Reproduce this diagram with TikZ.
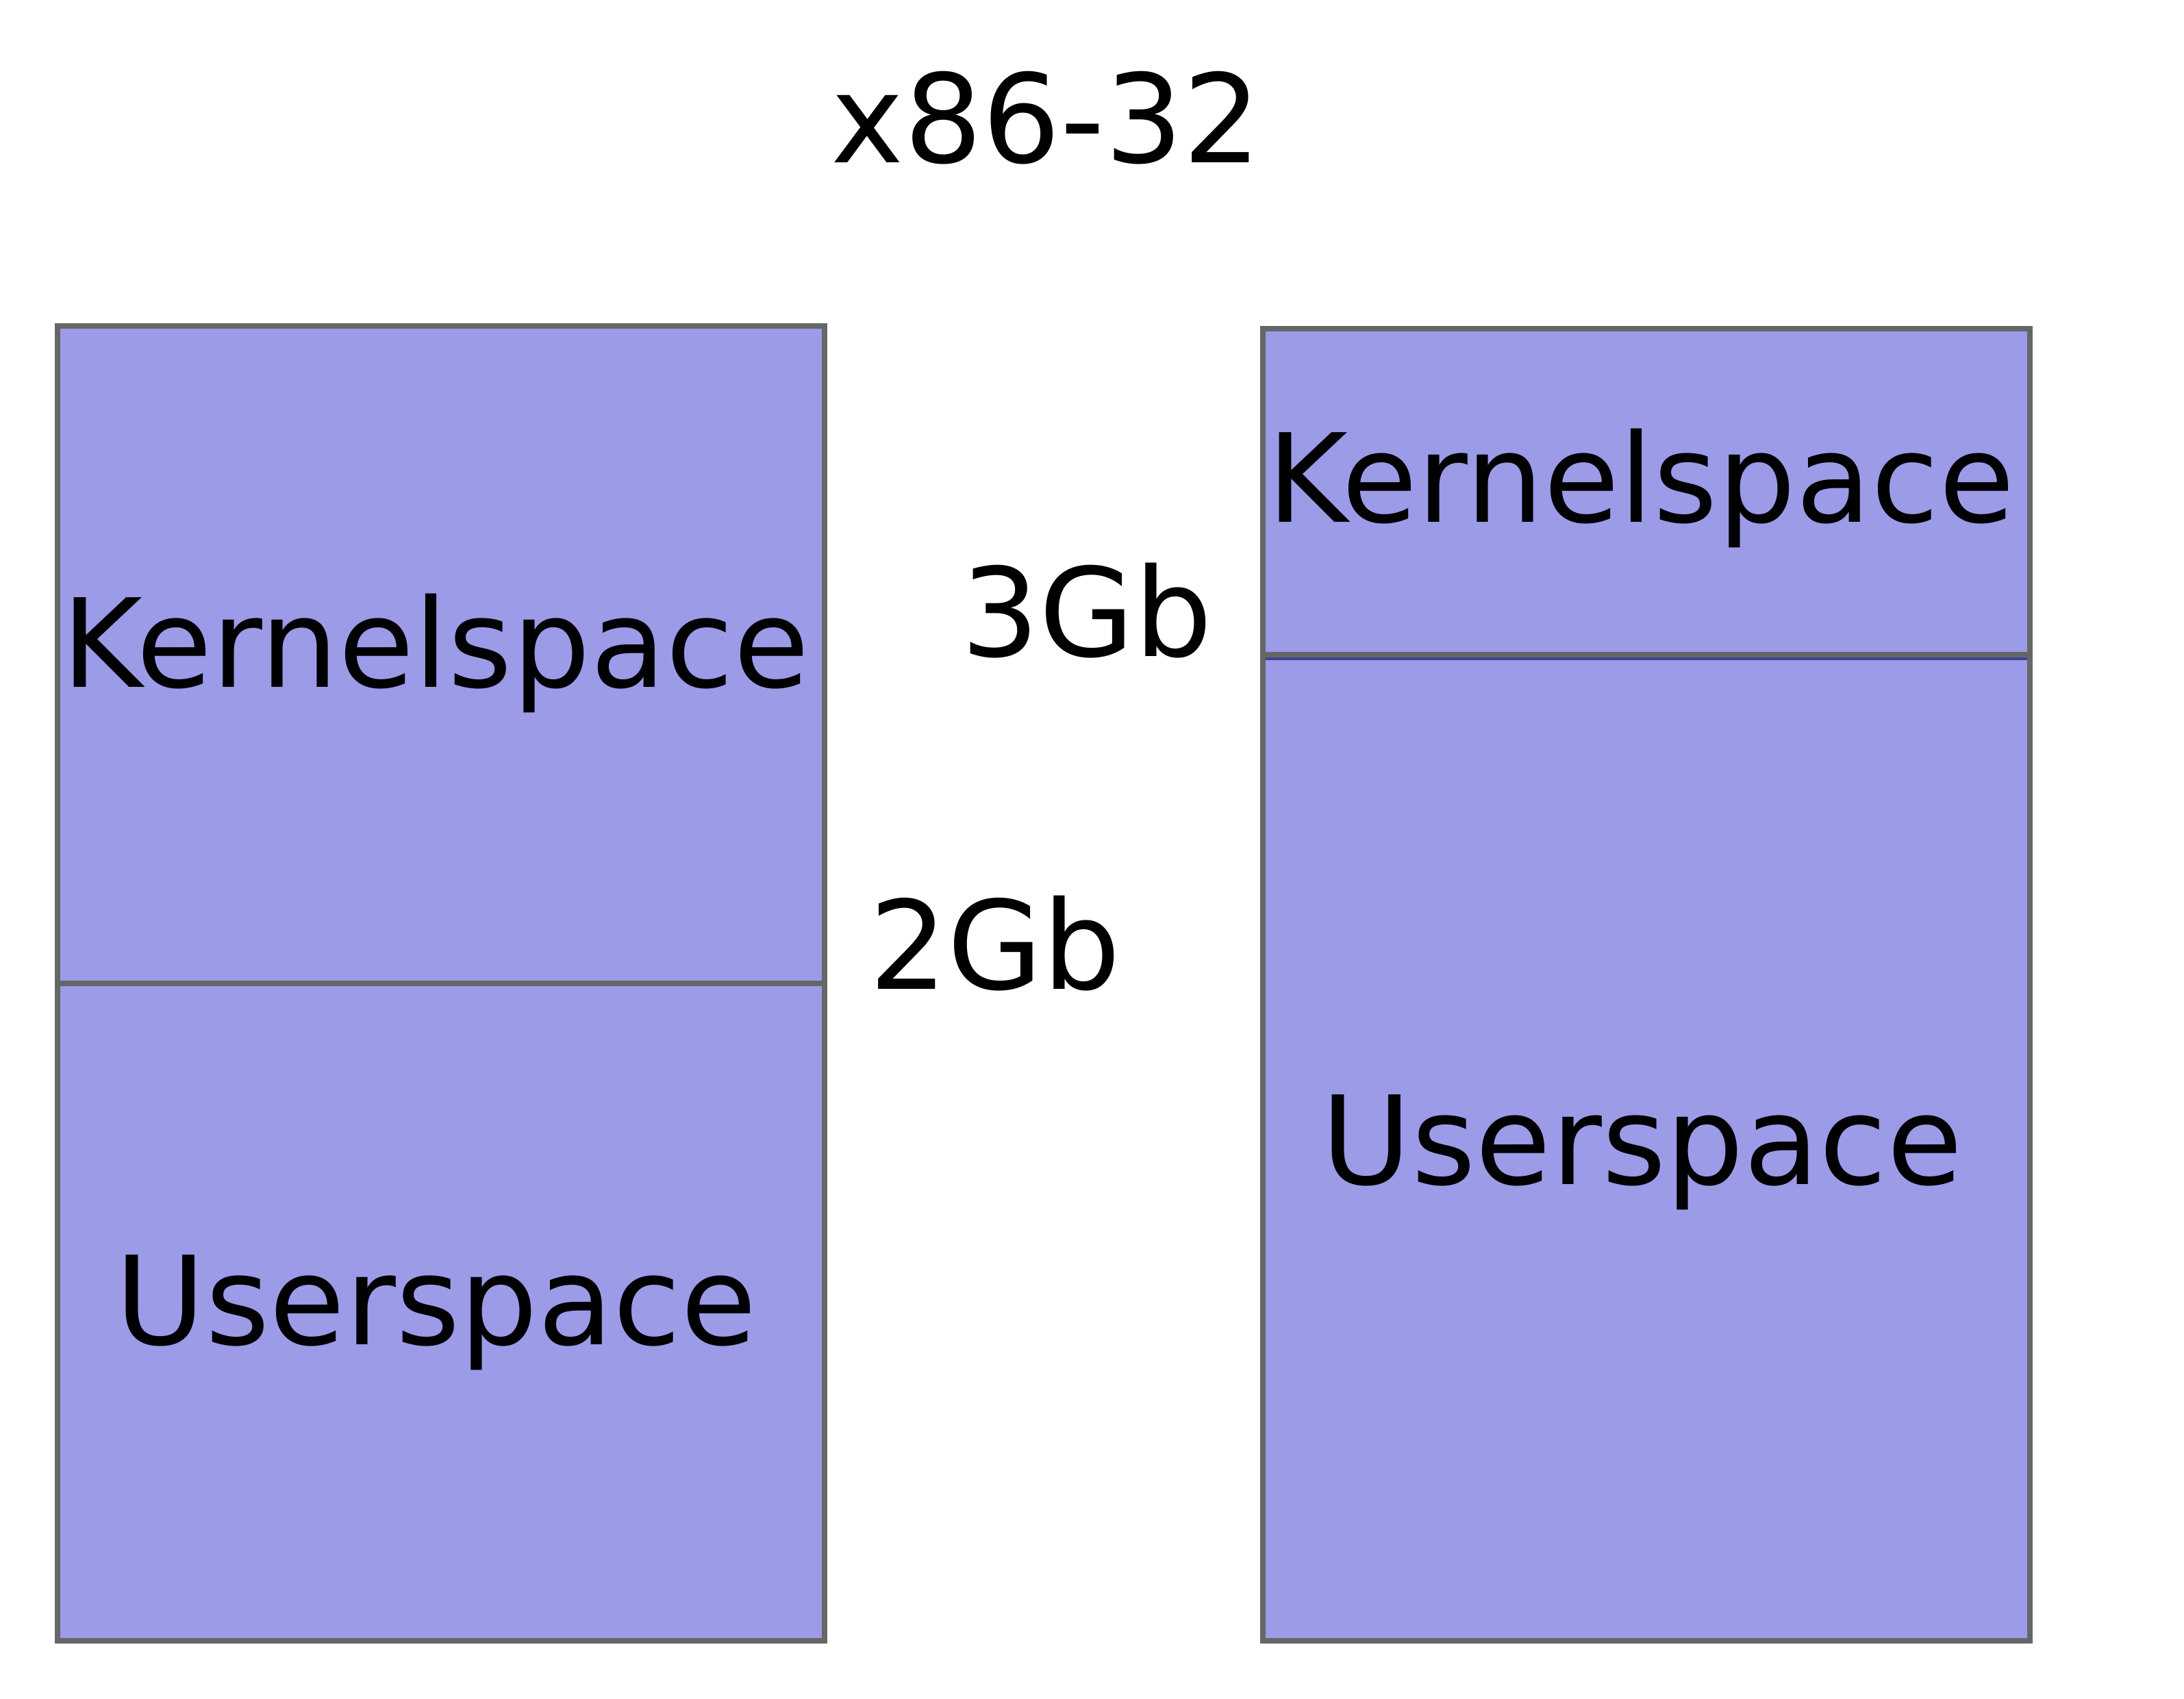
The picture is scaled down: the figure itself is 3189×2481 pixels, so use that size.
\documentclass[tikz,border=0pt]{standalone}
\usepackage{fontspec}
\setmainfont{DejaVu Sans}
\definecolor{memfill}{RGB}{155,155,232}
\definecolor{memedge}{RGB}{102,102,102}
\definecolor{memdark}{RGB}{66,66,150}
\begin{document}
\begin{tikzpicture}[x=0.25pt,y=-0.25pt,
  region/.style={draw=memedge,fill=memfill,line width=2pt},
  divider/.style={draw=memedge,line width=2pt},
  lbl/.style={anchor=base,inner sep=0pt,font=\fontsize{44.9pt}{50pt}\selectfont}]
\useasboundingbox (0,0) rectangle (3189,2481);
% left column
\path[region] (84,476) rectangle (1204,2396);
\coordinate (l1) at (84,1436);
\coordinate (l2) at (1204,1436);
\draw[divider] (l1) -- (l2);
% right column
\path[region] (1844,480) rectangle (2964,2396);
\coordinate (r1) at (1848,962);
\coordinate (r2) at (2960,962);
\draw[draw=memdark,line width=1pt] (r1) -- (r2);
\coordinate (r3) at (1844,956);
\coordinate (r4) at (2964,956);
\draw[divider] (r3) -- (r4);
% labels
\node[lbl] (title) at (1528,238) {x86-32};
\node[lbl] (lk) at (636,1003) {Kernelspace};
\node[lbl] (lu) at (637,1963) {Userspace};
\node[lbl] (rk) at (2396,763) {Kernelspace};
\node[lbl] (ru) at (2398,1729) {Userspace};
\node[lbl] (g3) at (1587,958) {3Gb};
\node[lbl] (g2) at (1453,1444) {2Gb};
\end{tikzpicture}
\end{document}
